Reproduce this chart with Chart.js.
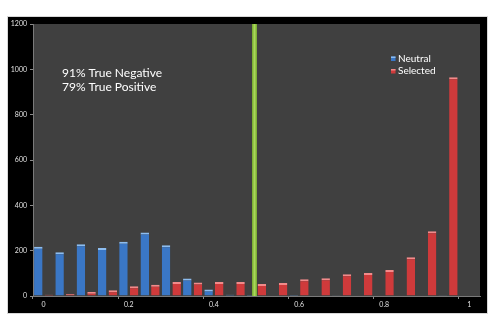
<!DOCTYPE html>
<html>
<head>
<meta charset="utf-8">
<script src="https://cdn.jsdelivr.net/npm/chart.js@4"></script>
<style>
  body { margin: 0; background: #fff; }
  canvas { display: block; }
</style>
</head>
<body>
<canvas id="histChart" width="500" height="325"></canvas>
<script>
// score bins 0 .. 1 in steps of 0.05
const bins = ['0', '0.05', '0.1', '0.15', '0.2', '0.25', '0.3', '0.35', '0.4', '0.45', '0.5',
              '0.55', '0.6', '0.65', '0.7', '0.75', '0.8', '0.85', '0.9', '0.95', '1'];
const neutral = [217, 193, 228, 212, 239, 280, 224, 77, 29, 6, 4, 0, 4, 0, 3, 0, 0, 0, 0, 3, 0];
const selected = [6, 9, 18, 25, 43, 50, 62, 60, 62, 62, 53, 57, 74, 78, 96, 101, 115, 171, 286, 965, 0];
const xTickLabels = ['0', '0.2', '0.4', '0.6', '0.8', '1'];
const yTicks = [0, 200, 400, 600, 800, 1000, 1200];
const cutoff = '0.5';
const notes = ['91% True Negative', '79% True Positive'];

// black frame + dark plot background
const framePlugin = {
  id: 'frame',
  beforeDraw(chart) {
    const ctx = chart.ctx;
    const a = chart.chartArea;
    ctx.save();
    ctx.fillStyle = '#fff';
    ctx.fillRect(0, 0, chart.width, chart.height);
    ctx.fillStyle = '#d8d8d8';
    ctx.fillRect(7, 16, 481, 298);
    ctx.fillStyle = '#000';
    ctx.fillRect(8, 17, 479, 296);
    ctx.fillStyle = '#404040';
    ctx.fillRect(a.left, a.top, a.right - a.left, a.bottom - a.top);
    ctx.restore();
  }
};

// green cutoff line, text block and legend
const overlayPlugin = {
  id: 'overlay',
  afterDatasetsDraw(chart) {
    const ctx = chart.ctx;
    const a = chart.chartArea;
    const xs = chart.scales.x;
    const x = xs.getPixelForValue(bins.indexOf(cutoff)) - 2;
    ctx.save();
    ctx.fillStyle = '#7fb236';
    ctx.fillRect(x - 2.5, a.top, 5, a.bottom - a.top);
    ctx.fillStyle = '#a9d85a';
    ctx.fillRect(x - 1, a.top, 2, a.bottom - a.top);

    ctx.fillStyle = '#fff';
    ctx.font = '12px Lato, "Open Sans", sans-serif';
    ctx.textBaseline = 'middle';
    notes.forEach((t, i) => ctx.fillText(t, 62, 73 + i * 14.5));

    ctx.font = '10px Lato, "Open Sans", sans-serif';
    chart.data.datasets.forEach((ds, i) => {
      const y = 58.5 + i * 12.5;
      ctx.fillStyle = ds.backgroundColor;
      ctx.fillRect(391, y - 2, 4.5, 4.5);
      ctx.fillStyle = ds.borderColor;
      ctx.fillRect(391, y - 2, 4.5, 1.5);
      ctx.fillStyle = '#fff';
      ctx.fillText(ds.label, 398, y);
    });
    ctx.restore();
  }
};

const ctx = document.getElementById('histChart').getContext('2d');
new Chart(ctx, {
  type: 'bar',
  data: {
    labels: bins,
    datasets: [{
      label: 'Neutral',
      data: neutral,
      backgroundColor: '#3a77c6',
      borderColor: '#8dbdf0',
      borderWidth: { top: 2, left: 0, right: 0, bottom: 0 },
      borderSkipped: 'bottom'
    }, {
      label: 'Selected',
      data: selected,
      backgroundColor: '#cf3a3b',
      borderColor: '#f28a8a',
      borderWidth: { top: 2, left: 0, right: 0, bottom: 0 },
      borderSkipped: 'bottom'
    }]
  },
  options: {
    responsive: false,
    animation: false,
    devicePixelRatio: 1,
    categoryPercentage: 1.0,
    barPercentage: 0.8,
    layout: {
      padding: { left: 8, top: 24, right: 20, bottom: 13 }
    },
    plugins: {
      legend: { display: false },
      tooltip: { enabled: false }
    },
    scales: {
      x: {
        offset: true,
        afterFit(scale) { scale.height = 16; },
        grid: {
          offset: true,
          drawOnChartArea: false,
          drawTicks: true,
          tickLength: 3,
          color: (c) => (c.index % 4 === 0 ? '#8a8a8a' : 'rgba(0,0,0,0)')
        },
        border: { color: '#7a7a7a', width: 1 },
        ticks: {
          autoSkip: false,
          maxRotation: 0,
          padding: 2,
          color: '#e0e0e0',
          font: { size: 7, family: 'Lato, sans-serif' },
          callback: (v, i) => (xTickLabels.includes(bins[i]) ? bins[i] : '')
        }
      },
      y: {
        min: yTicks[0],
        max: yTicks[yTicks.length - 1],
        afterFit(scale) { scale.width = 25; },
        afterBuildTicks(scale) { scale.ticks = yTicks.map(v => ({ value: v })); },
        grid: {
          drawOnChartArea: false,
          drawTicks: true,
          tickLength: 3,
          color: '#8a8a8a'
        },
        border: { color: '#7a7a7a', width: 1 },
        ticks: {
          padding: 3,
          color: '#e0e0e0',
          font: { size: 7, family: 'Lato, sans-serif' },
          callback: (v) => String(v)
        }
      }
    }
  },
  plugins: [framePlugin, overlayPlugin]
});
</script>
</body>
</html>
